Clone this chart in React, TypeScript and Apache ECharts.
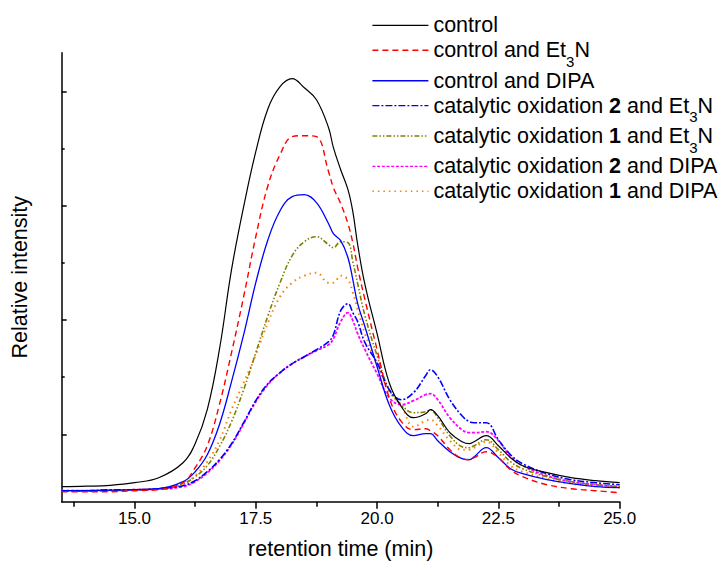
import React, { useEffect, useRef } from "react";
import * as echarts from "echarts";

// retention time (min)
const retentionTime = [
  13.5, 14, 14.5, 15, 15.5, 16, 16.25, 16.5, 16.75, 17, 17.25, 17.5, 17.75, 18,
  18.25, 18.5, 18.75, 19, 19.1, 19.25, 19.4, 19.5, 19.6, 19.75, 20, 20.25, 20.5,
  20.75, 21, 21.1, 21.25, 21.5, 21.75, 21.9, 22, 22.25, 22.5, 22.75, 23, 23.5, 24,
  24.5, 25,
];

// relative intensity (arbitrary units)
const control = [
  0.15, 0.155, 0.164, 0.19, 0.24, 0.39, 0.58, 0.92, 1.52, 2.32, 2.95, 3.5, 3.93,
  4.15, 4.23, 4.14, 4.02, 3.74, 3.54, 3.32, 3.12, 2.9, 2.57, 2.17, 1.68, 1.19,
  0.95, 0.84, 0.88, 0.92, 0.86, 0.69, 0.6, 0.58, 0.6, 0.66, 0.56, 0.44, 0.36,
  0.29, 0.24, 0.21, 0.19,
];
const controlEt3N = [
  0.1, 0.1, 0.1, 0.11, 0.12, 0.19, 0.34, 0.56, 0.97, 1.49, 2.05, 2.65, 3.16,
  3.47, 3.65, 3.66, 3.65, 3.3, 3.14, 2.98, 2.78, 2.59, 2.34, 2.02, 1.52, 1.04,
  0.8, 0.72, 0.73, 0.71, 0.66, 0.52, 0.43, 0.42, 0.44, 0.5, 0.44, 0.32, 0.25,
  0.17, 0.13, 0.11, 0.09,
];
const controlDIPA = [
  0.11, 0.11, 0.115, 0.12, 0.13, 0.2, 0.3, 0.47, 0.77, 1.2, 1.67, 2.19, 2.62,
  2.91, 3.05, 3.07, 2.99, 2.78, 2.68, 2.61, 2.44, 2.22, 1.98, 1.75, 1.35, 0.97,
  0.75, 0.66, 0.68, 0.68, 0.61, 0.5, 0.43, 0.42, 0.45, 0.54, 0.44, 0.33, 0.28,
  0.22, 0.18, 0.15, 0.14,
];
const cat2Et3N = [
  0.11, 0.11, 0.12, 0.12, 0.13, 0.16, 0.21, 0.3, 0.42, 0.58, 0.79, 1.01, 1.18,
  1.29, 1.38, 1.45, 1.52, 1.6, 1.67, 1.91, 1.98, 1.89, 1.8, 1.59, 1.39, 1.12,
  1.02, 1.09, 1.26, 1.32, 1.25, 1.02, 0.86, 0.8, 0.79, 0.79, 0.62, 0.47, 0.38,
  0.28, 0.22, 0.19, 0.17,
];
const cat1Et3N = [
  0.11, 0.11, 0.11, 0.12, 0.13, 0.18, 0.25, 0.36, 0.55, 0.8, 1.12, 1.49, 1.86,
  2.19, 2.46, 2.6, 2.65, 2.57, 2.54, 2.6, 2.59, 2.4, 2.18, 1.86, 1.46, 1.12,
  0.97, 0.89, 0.9, 0.92, 0.84, 0.66, 0.55, 0.54, 0.56, 0.62, 0.52, 0.4, 0.33,
  0.25, 0.2, 0.17, 0.15,
];
const cat2DIPA = [
  0.11, 0.11, 0.115, 0.12, 0.125, 0.15, 0.2, 0.29, 0.41, 0.57, 0.78, 1.0, 1.17,
  1.29, 1.38, 1.45, 1.51, 1.57, 1.63, 1.8, 1.89, 1.81, 1.68, 1.52, 1.28, 1.04,
  0.97, 1.01, 1.07, 1.08, 1.02, 0.84, 0.72, 0.69, 0.69, 0.7, 0.61, 0.45, 0.36,
  0.26, 0.2, 0.17, 0.15,
];
const cat1DIPA = [
  0.11, 0.11, 0.11, 0.12, 0.13, 0.18, 0.26, 0.4, 0.61, 0.92, 1.19, 1.47, 1.79,
  2.05, 2.19, 2.26, 2.29, 2.19, 2.19, 2.26, 2.22, 2.09, 1.92, 1.68, 1.37, 1.1,
  0.96, 0.75, 0.81, 0.82, 0.76, 0.61, 0.52, 0.52, 0.54, 0.6, 0.49, 0.36, 0.3,
  0.23, 0.18, 0.16, 0.14,
];

// axis ticks
const xMajorTicks = [15, 17.5, 20, 22.5, 25];
const xMinorTicks = [13.75, 16.25, 18.75, 21.25, 23.75];
const yMajorTicks = [0.674, 1.817, 2.96, 4.103];
const yMinorTicks = [1.2455, 2.3885, 3.5315];

const seriesNames = [
  "control",
  "control and Et3N",
  "control and DIPA",
  "catalytic oxidation 2 and Et3N",
  "catalytic oxidation 1 and Et3N",
  "catalytic oxidation 2 and DIPA",
  "catalytic oxidation 1 and DIPA",
];
const legendLabels: Record<string, string> = {
  control: "control",
  "control and Et3N": "control and Et{s|3}N",
  "control and DIPA": "control and DIPA",
  "catalytic oxidation 2 and Et3N": "catalytic oxidation {b|2} and Et{s|3}N",
  "catalytic oxidation 1 and Et3N": "catalytic oxidation {b|1} and Et{s|3}N",
  "catalytic oxidation 2 and DIPA": "catalytic oxidation {b|2} and DIPA",
  "catalytic oxidation 1 and DIPA": "catalytic oxidation {b|1} and DIPA",
};
const seriesValues = [control, controlEt3N, controlDIPA, cat2Et3N, cat1Et3N, cat2DIPA, cat1DIPA];
const seriesColors = ["#000000", "#ff0000", "#0000ff", "#0000ff", "#808000", "#ff00ff", "#ff8000"];
const seriesDash: any[] = ["solid", [6, 4], "solid", [7, 2, 2, 2], [5, 2, 1.5, 2, 1.5, 2], [3, 1.7], [1.5, 4]];
const seriesWidth = [1.2, 1.4, 1.3, 1.6, 1.6, 1.8, 2];

const FONT = "'Liberation Sans', Arial, sans-serif";

export default function App() {
  const ref = useRef<HTMLDivElement>(null);
  useEffect(() => {
    document.body.style.margin = "0";
    const chart = echarts.init(ref.current!, null, { renderer: "svg" });
    const axisLineStyle = { color: "#000", width: 1.5 };
    const option: any = {
      animation: false,
      backgroundColor: "#fff",
      grid: {
        left: 61.7,
        right: 105.3,
        top: 52.7,
        bottom: 63.3,
        containLabel: false,
        outerBoundsMode: "none",
      },
      legend: {
        show: true,
        orient: "vertical",
        left: 371.7,
        top: 12.4,
        padding: 0,
        itemWidth: 56,
        itemHeight: 14,
        itemGap: -1.1,
        selectedMode: false,
        data: seriesNames,
        itemStyle: { opacity: 0, borderWidth: 0 },
        lineStyle: { width: 1.4 },
        formatter: (name: string) => legendLabels[name] ?? name,
        textStyle: {
          fontSize: 21.5,
          fontFamily: FONT,
          color: "#000",
          lineHeight: 26,
          rich: {
            b: { fontSize: 21.5, fontWeight: "bold", fontFamily: FONT, color: "#000", lineHeight: 26 },
            s: { fontSize: 15, fontFamily: FONT, color: "#000", lineHeight: 26, padding: [11, 0, -11, 0] },
          },
        },
      },
      xAxis: [
        {
          type: "value",
          min: 13.5,
          max: 25,
          position: "bottom",
          name: "retention time (min)",
          nameLocation: "middle",
          nameGap: 36,
          nameTextStyle: { fontSize: 21.5, fontFamily: FONT, color: "#000" },
          axisLine: { show: true, onZero: false, lineStyle: axisLineStyle },
          axisTick: { show: true, inside: false, length: 7, lineStyle: axisLineStyle, customValues: xMajorTicks },
          axisLabel: {
            show: true,
            customValues: xMajorTicks,
            formatter: (v: number) => v.toFixed(1),
            fontSize: 17,
            fontFamily: FONT,
            color: "#000",
            margin: 8,
          },
          splitLine: { show: false },
        },
        {
          type: "value",
          min: 13.5,
          max: 25,
          position: "bottom",
          axisLine: { show: false, onZero: false },
          axisTick: { show: true, inside: false, length: 5, lineStyle: axisLineStyle, customValues: xMinorTicks },
          axisLabel: { show: false },
          splitLine: { show: false },
        },
      ],
      yAxis: [
        {
          type: "value",
          min: 0,
          max: 4.49,
          position: "left",
          name: "Relative intensity",
          nameLocation: "middle",
          nameGap: 31,
          nameTextStyle: { fontSize: 21.5, fontFamily: FONT, color: "#000" },
          axisLine: { show: true, onZero: false, lineStyle: axisLineStyle },
          axisTick: { show: true, inside: true, length: 5, lineStyle: axisLineStyle, customValues: yMajorTicks },
          axisLabel: { show: false },
          splitLine: { show: false },
        },
        {
          type: "value",
          min: 0,
          max: 4.49,
          position: "left",
          axisLine: { show: false, onZero: false },
          axisTick: { show: true, inside: true, length: 3, lineStyle: axisLineStyle, customValues: yMinorTicks },
          axisLabel: { show: false },
          splitLine: { show: false },
        },
      ],
      series: seriesNames.map((name, i) => ({
        name,
        type: "line",
        xAxisIndex: 0,
        yAxisIndex: 0,
        symbol: "none",
        showSymbol: false,
        smooth: 0.4,
        data: retentionTime.map((x, j) => [x, seriesValues[i][j]]),
        lineStyle: { color: seriesColors[i], width: seriesWidth[i], type: seriesDash[i] },
        itemStyle: { color: seriesColors[i] },
        z: 10 - i,
      })),
    };
    chart.setOption(option);
    return () => chart.dispose();
  }, []);
  return <div ref={ref} style={{ width: 725, height: 565 }} />;
}
